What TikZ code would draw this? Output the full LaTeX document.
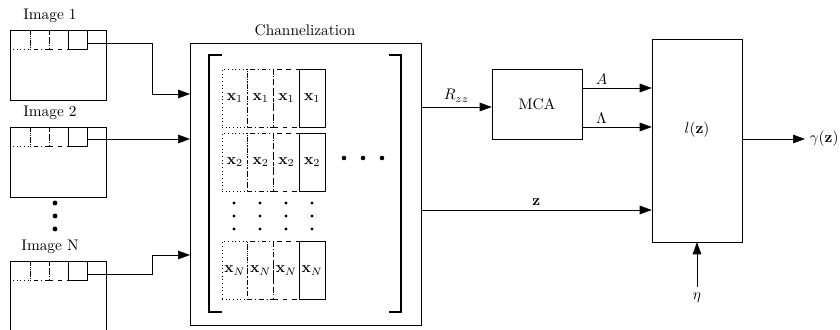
\documentclass[tikz,border=0pt]{standalone}
\usetikzlibrary{arrows.meta,fit}
\begin{document}
\begin{tikzpicture}[x=0.652pt,y=-0.652pt,
  arr/.style={-{Triangle[length=7.8pt,width=5.6pt]}},
  box/.style={draw,inner sep=0pt},
  thk/.style={line width=1.6pt},
  cell/.style={draw,inner sep=0pt,minimum width=16.8pt,minimum height=37.8pt},
  lbl/.style={inner sep=1pt}]
\useasboundingbox (0,0) rectangle (840,330);
\clip (0,0) rectangle (840,330);

% image boxes
\node[box,fit={(10,30)(106,100)}] (im1) {};
\node[box,fit={(10,127)(106,197)}] (im2) {};
\node[box,fit={(10,261)(106,345)}] (imN) {};
\node[lbl] (l1) at (50,16) {Image 1};
\node[lbl] (l2) at (50,113) {Image 2};
\node[lbl] (lN) at (50,247) {Image N};
\foreach \t in {30,127,261}{
  \draw[dotted] (10,\t) rectangle (30,\t+19);
  \draw[dashed] (49,\t) rectangle (68,\t+19);
  \draw[dashdotted] (30,\t) rectangle (49,\t+19);
  \draw (68,\t) rectangle (87,\t+19);
}
\foreach \y in {203,216,229}{\fill (55,\y) circle (1.6pt);}
\coordinate (o1) at (87,43);
\coordinate (o2) at (87,139);
\coordinate (oN) at (87,274);

% channelization
\node[box,fit={(190,43)(421,325)}] (ch) {};
\node[lbl] (chl) at (305,30) {Channelization};
\draw[thk] (222,55) -- (209,55) -- (209,312) -- (222,312);
\draw[thk] (389,55) -- (401,55) -- (401,312) -- (389,312);
\foreach \r/\yc in {1/98,2/162,N/270.5}{
  \node[cell,dotted] (c\r a) at (234.9,\yc) {$\mathbf{x}_\r$};
  \node[cell,dashdotted] (c\r b) at (260.6,\yc) {$\mathbf{x}_\r$};
  \node[cell,dashed] (c\r c) at (286.4,\yc) {$\mathbf{x}_\r$};
  \node[cell] (c\r d) at (312.1,\yc) {$\mathbf{x}_\r$};
}
\foreach \x in {234,260,286,312}{
  \foreach \y in {203,216,229}{\fill (\x,\y) circle (1.1pt);}
}
\foreach \x in {344,363,382}{\fill (\x,158) circle (1.5pt);}

\coordinate (e1) at (190,94);
\coordinate (e2) at (190,139);
\coordinate (eN) at (190,255);
\draw[arr] (o1) -- (152,43) |- (e1);
\draw[arr] (o2) -- (e2);
\draw[arr] (oN) -- (152,274) |- (eN);

% MCA
\node[box,fit={(492,69)(582,139)}] (mca) {};
\node[lbl] at (mca.center) {MCA};
% l(z)
\node[box,fit={(652,39)(742,242)}] (lz) {};
\node[lbl] at (697,130) {$l(\mathbf{z})$};

\coordinate (r0) at (421,107);
\draw[arr] (r0) -- (mca.west |- r0) node[midway,above,lbl,yshift=2pt] {$R_{zz}$};
\coordinate (a0) at (582,88);
\draw[arr] (a0) -- (lz.west |- a0) node[pos=0.28,above,lbl,yshift=1pt] {$A$};
\coordinate (b0) at (582,127);
\draw[arr] (b0) -- (lz.west |- b0) node[pos=0.28,above,lbl,yshift=1pt] {$\Lambda$};
\coordinate (z0) at (421,210);
\draw[arr] (z0) -- (lz.west |- z0) node[midway,above,lbl,yshift=2pt] {$\mathbf{z}$};

\node[inner sep=3pt,anchor=west] (g) at (805,139) {$\gamma(\mathbf{z})$};
\draw[arr] (lz.east |- g.west) -- (g.west);
\node[lbl] (eta) at (697,298) {$\eta$};
\draw[arr] (697,287) -- (lz.south);
\end{tikzpicture}
\end{document}
